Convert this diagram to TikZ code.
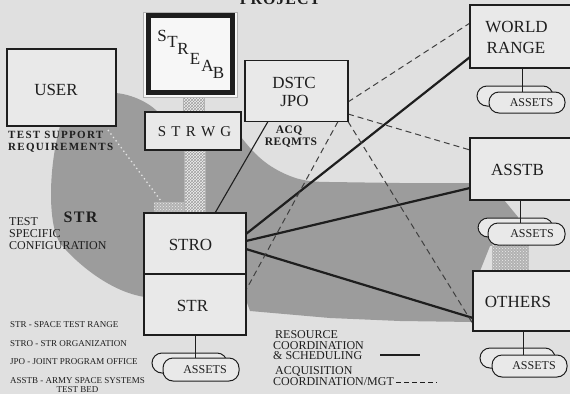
\documentclass[tikz,border=0pt]{standalone}
\usepackage{fontspec}
\setmainfont{Liberation Serif}
\usetikzlibrary{calc,patterns}
\pgfdeclarelayer{bg}
\pgfdeclarelayer{lines}
\pgfsetlayers{bg,lines,main}
\definecolor{bgc}{HTML}{E0E0E0}
\definecolor{boxfill}{HTML}{E9E9E9}
\definecolor{blobc}{HTML}{9C9C9C}
\definecolor{ink}{HTML}{1E1E1E}
\newcommand{\myfs}[1]{\fontsize{#1}{#1}\selectfont}
\begin{document}
\begin{tikzpicture}[x=1pt,y=-1pt,
  box/.style={draw=ink,line width=1.8pt,fill=boxfill,inner sep=0pt,outer sep=0pt},
  lbl/.style={inner sep=0pt,text=ink,font=\myfs{17}},
  pill/.style={draw=ink,line width=1pt,fill=boxfill,rounded corners=10pt,inner sep=0pt,outer sep=0pt,font=\myfs{12},text=ink},
  thickline/.style={draw=ink,line width=2.2pt},
  thinline/.style={draw=ink,line width=1.1pt},
  dashline/.style={draw=ink!85,line width=1pt,dash pattern=on 6pt off 4pt},
  hatch/.style={draw=gray!60,line width=0.5pt,preaction={fill=gray!12},pattern=crosshatch,pattern color=gray!75,inner sep=0pt,outer sep=0pt},
  checker/.style={draw=none,preaction={fill=gray!60},pattern=crosshatch dots,pattern color=gray!15,inner sep=0pt},
  small/.style={inner sep=0pt,text=ink,align=left,anchor=west}
]
\useasboundingbox (0,0) rectangle (570,394);
\clip (0,0) rectangle (570,394);

% ---------- background and shaded region ----------
\begin{pgfonlayer}{bg}
\fill[bgc] (0,0) rectangle (570,394);
\fill[blobc] (116,93) .. controls (128,94) and (146,100) .. (158,112)
  -- (241,137)
  .. controls (250,148) and (262,165) .. (290,176)
  .. controls (300,180) and (310,182) .. (330,182)
  -- (400,183) -- (470,183) -- (480,200) -- (504,200) -- (518,217)
  -- (505,243) -- (490,246) -- (480,271) -- (473,322)
  -- (400,321) -- (330,318) -- (250,311) -- (246,300) -- (145,297)
  .. controls (110,292) and (75,262) .. (60,243)
  .. controls (48,225) and (48,170) .. (60,126)
  -- (116,126) -- cycle;
\end{pgfonlayer}

% ---------- hatched links ----------
\node[hatch,minimum width=21pt,minimum height=15pt] (h1) at (193.5,104.5) {};
\node[hatch,minimum width=21pt,minimum height=63pt] (h2) at (194.5,181.5) {};
\node[checker,minimum width=37pt,minimum height=29pt] (hsq) at (510.5,256) {};
\node[checker,minimum width=30pt,minimum height=11pt] (hsq2) at (168.5,207.5) {};

% ---------- boxes ----------
\node[box,minimum width=109pt,minimum height=77pt] (user) at (61.5,87.5) {};
\node[lbl] (usert) at (56,90) {USER};

\node[draw=gray!60,line width=1pt,fill=white!94!gray,minimum width=93.5pt,minimum height=84.5pt,inner sep=0pt,outer sep=0pt] (streab) at (190.25,54.75) {};
\draw[ink,line width=5pt] ($(streab.north west)+(4.5,3)$) rectangle ($(streab.south east)+(-4.5,-4.5)$);
\node[lbl] (sa) at (162,36) {S};
\node[lbl] (sb) at (172.5,41.5) {T};
\node[lbl] (sc) at (183,49) {R};
\node[lbl] (sd) at (195,59) {E};
\node[lbl] (se) at (207.5,66) {A};
\node[lbl] (sf) at (218.5,72.5) {B};

\node[box,minimum width=96pt,minimum height=38pt] (strwg) at (193,131) {};
\node[lbl,font=\myfs{15}] (strwgt) at (194.5,131.5) {S\hspace{0.35em}T\hspace{0.35em}R\hspace{0.35em}W\hspace{0.35em}G};

\node[box,minimum width=103pt,minimum height=61pt] (dstc) at (296.5,91) {};
\node[lbl] (dstct) at (294,82.5) {DSTC};
\node[lbl] (jpot) at (294.5,101) {JPO};

\node[box,minimum width=102pt,minimum height=63pt] (world) at (521,36.5) {};
\node[lbl] (worldt) at (516.5,26.5) {WORLD};
\node[lbl] (ranget) at (516,47.5) {RANGE};

\node[box,minimum width=102pt,minimum height=62pt] (asstb) at (521,169) {};
\node[lbl] (asstbt) at (517.5,170) {ASSTB};

\node[box,minimum width=99pt,minimum height=60pt] (others) at (522.5,301) {};
\node[lbl] (otherst) at (518,301.5) {OTHERS};

\node[box,minimum width=102pt,minimum height=61pt] (stro) at (195,243.5) {};
\node[lbl] (strot) at (190.5,245) {STRO};
\node[box,minimum width=102pt,minimum height=61pt] (strbox) at (195,304.5) {};
\node[lbl] (strt) at (192.5,306) {STR};

% ---------- asset pills ----------
\node[pill,minimum width=76pt,minimum height=20pt] (wb) at (515,96) {};
\node[pill,minimum width=76pt,minimum height=21pt] (wa) at (527,102.5) {\hspace{9pt}ASSETS};
\node[pill,minimum width=75pt,minimum height=19pt] (ab) at (515.5,227.5) {};
\node[pill,minimum width=77pt,minimum height=22pt] (aa) at (526.5,234) {\hspace{11pt}ASSETS};
\node[pill,minimum width=75pt,minimum height=20pt] (ob) at (517.5,358) {};
\node[pill,minimum width=75pt,minimum height=22pt] (oa) at (529.5,366) {\hspace{9pt}ASSETS};
\node[pill,minimum width=75pt,minimum height=20pt] (sb2) at (189.5,363) {};
\node[pill,minimum width=76pt,minimum height=23pt] (sa2) at (201,369.5) {\hspace{8pt}ASSETS};

\coordinate (wtop) at ($(world.south)+(1,0)$);
\coordinate (atop) at ($(asstb.south)+(-1,0)$);
\coordinate (otop) at ($(others.south)+(1,0)$);
\coordinate (stop) at ($(strbox.south)+(0,0)$);
\draw[ink,line width=1pt] (wtop) -- (wtop |- wa.north);
\draw[ink,line width=1pt] (atop) -- (atop |- aa.north);
\draw[ink,line width=1pt] (otop) -- (otop |- oa.north);
\draw[ink,line width=1pt] (stop) -- (stop |- sa2.north);

% ---------- connectors ----------
\begin{pgfonlayer}{lines}
\draw[thickline] ([yshift=9.5pt]stro.east) -- ([yshift=-20.5pt]world.west);
\draw[thickline] ([yshift=2.5pt]stro.east) -- ([yshift=-19pt]asstb.west);
\draw[thickline] ([yshift=-5.5pt]stro.east) -- ([yshift=-17pt]others.west);
\draw[thinline] ([xshift=-28.5pt]dstc.south) -- ([xshift=20pt]stro.north);
\draw[dashline] ([yshift=-11pt]dstc.east) -- ([yshift=13.5pt]world.west);
\draw[dashline] ([yshift=-23pt]dstc.east) -- ([yshift=19pt]asstb.west);
\draw[dashline] ([xshift=41.5pt]dstc.south) -- ([yshift=14.5pt]strbox.east);
\draw[dashline] (dstc.south east) -- ([yshift=-23pt]others.west);
\coordinate (tsrend) at (108,130);
\draw[gray!20,line width=1.3pt,dash pattern=on 1.3pt off 3pt] (tsrend) -- ([xshift=-25pt]stro.north);
\end{pgfonlayer}

% ---------- texts ----------
\node[inner sep=0pt,text=ink,font=\bfseries\myfs{16}\addfontfeature{LetterSpace=6},anchor=base] (proj) at (280,4.5) {PROJECT};
\node[small,font=\bfseries\fontsize{11}{12}\selectfont\addfontfeature{LetterSpace=12}] (tsr) at (8,142) {TEST SUPPORT\\REQUIREMENTS};
\node[inner sep=0pt,text=ink,align=center,font=\bfseries\fontsize{11.5}{12}\selectfont\addfontfeature{LetterSpace=4}] (acq) at (289,137) {ACQ\\\hspace*{4pt}REQMTS};
\node[inner sep=0pt,text=ink,font=\bfseries\myfs{16}\addfontfeature{LetterSpace=8}] (strlbl) at (80.5,217.5) {STR};
\node[small,font=\fontsize{12}{12}\selectfont] (tsc) at (9,234) {TEST\\SPECIFIC\\CONFIGURATION};

\node[small,font=\myfs{9}] (lg1) at (10,325) {STR - SPACE TEST RANGE};
\node[small,font=\myfs{9}] (lg2) at (10,344) {STRO - STR ORGANIZATION};
\node[small,font=\myfs{9}] (lg3) at (10,362) {JPO - JOINT PROGRAM OFFICE};
\node[small,font=\fontsize{9}{9.5}\selectfont,align=center,anchor=north west] (lg4) at (10,377) {ASSTB - ARMY SPACE SYSTEMS\\TEST BED};

\node[small,font=\fontsize{12}{10.5}\selectfont] (rc) at (273,345.5) {\hspace*{2pt}RESOURCE\\COORDINATION\\\& SCHEDULING};
\node[small,font=\fontsize{12}{11}\selectfont] (ac) at (273,376.5) {\hspace*{2pt}ACQUISITION\\COORDINATION/MGT};
\coordinate (ls1) at (380,355);
\coordinate (ls2) at (420,355);
\draw[thickline,line width=2pt] (ls1) -- (ls2);
\coordinate (ld1) at (396,382);
\coordinate (ld2) at (437,382);
\draw[ink,line width=1pt,dash pattern=on 5pt off 3pt] (ld1) -- (ld2);
\end{tikzpicture}
\end{document}
